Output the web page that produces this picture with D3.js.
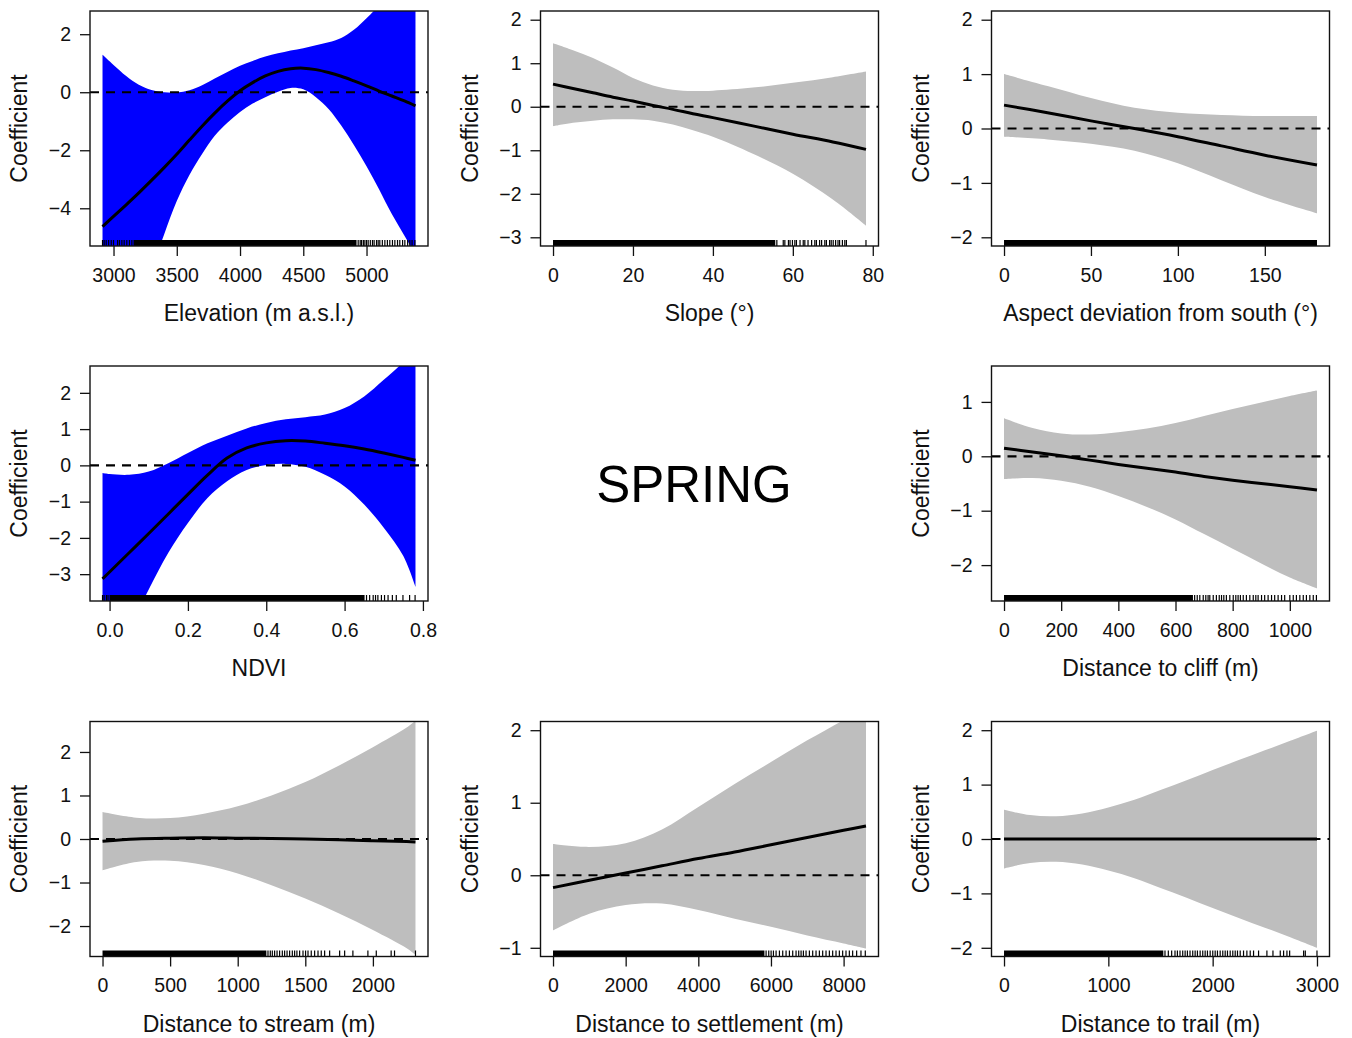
<!DOCTYPE html>
<html><head><meta charset="utf-8">
<script src="https://cdn.jsdelivr.net/npm/d3@7"></script>
<style>
html,body{margin:0;padding:0;background:#fff;}
svg{display:block;font-family:"Liberation Sans",Arial,Helvetica,sans-serif;}
</style></head><body>
<svg id="chart" width="1352" height="1038"></svg>
<script>
// ---------------- DATA ----------------
const yTitle = "Coefficient";
const centerLabel = "SPRING";

// Elevation
const elevX     = [2913, 3000, 3100, 3200, 3300, 3400, 3500, 3600, 3700, 3800, 3900, 4000, 4100, 4200, 4300, 4400, 4500, 4600, 4700, 4800, 4900, 5000, 5100, 5200, 5300, 5387];
const elevFit   = [-4.63, -4.28, -3.88, -3.47, -3.04, -2.60, -2.14, -1.65, -1.17, -0.72, -0.31, 0.05, 0.33, 0.56, 0.72, 0.81, 0.83, 0.78, 0.68, 0.55, 0.39, 0.22, 0.04, -0.13, -0.30, -0.47];
const elevUpper = [1.29, 0.94, 0.56, 0.26, 0.08, 0.00, -0.01, 0.07, 0.24, 0.47, 0.70, 0.91, 1.08, 1.23, 1.34, 1.44, 1.52, 1.62, 1.72, 1.87, 2.15, 2.55, 3.00, 3.50, 4.10, 4.70];
const elevLower = [-10.5, -9.5, -8.4, -7.2, -6.1, -4.9, -3.75, -2.85, -2.13, -1.50, -1.05, -0.68, -0.39, -0.17, 0.02, 0.15, 0.10, -0.17, -0.58, -1.15, -1.82, -2.55, -3.35, -4.20, -4.95, -5.60];
const elevYLim = [-5, 2.5];
const elevXTicks = [3000, 3500, 4000, 4500, 5000];
const elevYTicks = [-4, -2, 0, 2];
const elevRugDense = [3158, 4921];
const elevRugTicks = [2913, 2926, 2942, 2961, 2982, 3000, 3032, 3047, 3066, 3084, 3105, 3126, 3145, 4934, 4950, 4961, 4975, 4987, 5000, 5013, 5030, 5047, 5060, 5079, 5092, 5105, 5125, 5145, 5165, 5184, 5205, 5224, 5245, 5263, 5285, 5303, 5325, 5342, 5360, 5382];

// Slope
const slopeX     = [0, 5, 10, 15, 20, 25, 30, 35, 40, 50, 60, 70, 78.3];
const slopeFit   = [0.52, 0.42, 0.32, 0.22, 0.13, 0.03, -0.06, -0.16, -0.25, -0.44, -0.63, -0.81, -0.98];
const slopeUpper = [1.46, 1.30, 1.12, 0.90, 0.66, 0.49, 0.39, 0.36, 0.37, 0.44, 0.55, 0.68, 0.81];
const slopeLower = [-0.45, -0.37, -0.32, -0.29, -0.29, -0.32, -0.41, -0.54, -0.69, -1.08, -1.54, -2.13, -2.73];
const slopeYLim = [-3, 2];
const slopeXTicks = [0, 20, 40, 60, 80];
const slopeYTicks = [-3, -2, -1, 0, 1, 2];
const slopeRugDense = [0, 55.6];
const slopeRugTicks = [56.0, 57.6, 58.0, 58.9, 59.3, 59.9, 60.5, 60.9, 61.8, 62.6, 63.0, 63.8, 64.7, 65.5, 65.9, 66.7, 67.2, 68.0, 68.4, 69.2, 69.6, 70.1, 70.7, 71.3, 71.7, 72.4, 73.0, 73.4, 78.3];

// Aspect deviation from south
const aspectX     = [0, 25, 50, 75, 100, 125, 150, 180];
const aspectFit   = [0.43, 0.29, 0.14, 0.00, -0.15, -0.32, -0.49, -0.67];
const aspectUpper = [1.00, 0.78, 0.56, 0.38, 0.29, 0.25, 0.23, 0.23];
const aspectLower = [-0.15, -0.20, -0.28, -0.41, -0.64, -0.95, -1.26, -1.56];
const aspectYLim = [-2, 2];
const aspectXTicks = [0, 50, 100, 150];
const aspectYTicks = [-2, -1, 0, 1, 2];
const aspectRugDense = [0, 180];
const aspectRugTicks = [];

// NDVI
const ndviX     = [-0.018, 0.0, 0.05, 0.1, 0.15, 0.2, 0.25, 0.3, 0.35, 0.4, 0.45, 0.5, 0.55, 0.6, 0.65, 0.7, 0.75, 0.781];
const ndviFit   = [-3.13, -2.94, -2.41, -1.88, -1.34, -0.80, -0.27, 0.20, 0.48, 0.62, 0.68, 0.67, 0.61, 0.54, 0.45, 0.34, 0.22, 0.14];
const ndviUpper = [-0.21, -0.24, -0.26, -0.17, 0.06, 0.34, 0.61, 0.82, 1.02, 1.17, 1.27, 1.33, 1.40, 1.58, 1.90, 2.36, 2.85, 3.25];
const ndviLower = [-5.7, -5.4, -4.5, -3.42, -2.41, -1.59, -0.90, -0.44, -0.13, 0.01, 0.04, -0.04, -0.26, -0.58, -1.08, -1.72, -2.50, -3.35];
const ndviYLim = [-3.5, 2.5];
const ndviXTicks = [0.0, 0.2, 0.4, 0.6, 0.8];
const ndviYTicks = [-3, -2, -1, 0, 1, 2];
const ndviRugDense = [0.0, 0.651];
const ndviRugTicks = [-0.018, -0.014, -0.008, -0.004, 0.656, 0.664, 0.673, 0.679, 0.685, 0.694, 0.702, 0.711, 0.722, 0.732, 0.749, 0.766, 0.780];

// Distance to cliff
const cliffX     = [0, 100, 200, 300, 400, 500, 600, 700, 800, 900, 1000, 1095];
const cliffFit   = [0.15, 0.08, 0.01, -0.07, -0.15, -0.22, -0.29, -0.37, -0.44, -0.50, -0.56, -0.62];
const cliffUpper = [0.70, 0.52, 0.42, 0.40, 0.44, 0.51, 0.61, 0.74, 0.87, 0.99, 1.11, 1.21];
const cliffLower = [-0.42, -0.40, -0.45, -0.56, -0.73, -0.93, -1.16, -1.43, -1.70, -1.97, -2.23, -2.43];
const cliffYLim = [-2.5, 1.5];
const cliffXTicks = [0, 200, 400, 600, 800, 1000];
const cliffYTicks = [-2, -1, 0, 1];
const cliffRugDense = [0, 661];
const cliffRugTicks = [667, 676, 685, 697, 706, 714, 720, 732, 743, 753, 761, 769, 778, 790, 802, 811, 819, 827, 837, 848, 860, 872, 881, 889, 901, 912, 924, 936, 947, 959, 971, 982, 1000, 1012, 1023, 1035, 1047, 1058, 1070, 1082, 1093];

// Distance to stream
const streamX     = [0, 250, 500, 750, 1000, 1250, 1500, 1750, 2000, 2250, 2315];
const streamFit   = [-0.05, 0.00, 0.02, 0.03, 0.02, 0.01, 0.00, -0.02, -0.04, -0.06, -0.07];
const streamUpper = [0.62, 0.49, 0.48, 0.58, 0.75, 1.00, 1.31, 1.69, 2.11, 2.56, 2.72];
const streamLower = [-0.72, -0.53, -0.50, -0.60, -0.79, -1.06, -1.37, -1.71, -2.09, -2.51, -2.66];
const streamYLim = [-2.5, 2.5];
const streamXTicks = [0, 500, 1000, 1500, 2000];
const streamYTicks = [-2, -1, 0, 1, 2];
const streamRugDense = [0, 1212];
const streamRugTicks = [1224, 1241, 1256, 1273, 1291, 1310, 1330, 1347, 1365, 1384, 1404, 1421, 1438, 1458, 1483, 1502, 1520, 1544, 1569, 1594, 1618, 1643, 1680, 1754, 1791, 1852, 1963, 2025, 2135, 2160, 2315];

// Distance to settlement
const settleX     = [0, 1000, 2000, 3000, 4000, 5000, 6000, 7000, 8000, 8616];
const settleFit   = [-0.17, -0.07, 0.03, 0.13, 0.23, 0.32, 0.42, 0.52, 0.62, 0.68];
const settleUpper = [0.43, 0.39, 0.44, 0.63, 0.94, 1.26, 1.56, 1.86, 2.14, 2.33];
const settleLower = [-0.76, -0.53, -0.41, -0.39, -0.48, -0.60, -0.71, -0.83, -0.94, -1.01];
const settleYLim = [-1, 2];
const settleXTicks = [0, 2000, 4000, 6000, 8000];
const settleYTicks = [-1, 0, 1, 2];
const settleRugDense = [0, 5820];
const settleRugTicks = [5866, 5939, 6004, 6068, 6141, 6233, 6324, 6416, 6508, 6599, 6691, 6764, 6829, 6893, 6966, 7058, 7149, 7241, 7333, 7424, 7516, 7608, 7699, 7791, 7883, 7974, 8066, 8158, 8249, 8359, 8478, 8597];

// Distance to trail
const trailX     = [0, 250, 500, 750, 1000, 1250, 1500, 1750, 2000, 2250, 2500, 2750, 3000];
const trailFit   = [0, 0, 0, 0, 0, 0, 0, 0, 0, 0, 0, 0, 0];
const trailUpper = [0.54, 0.44, 0.42, 0.47, 0.58, 0.72, 0.90, 1.08, 1.27, 1.45, 1.63, 1.81, 1.99];
const trailLower = [-0.54, -0.44, -0.42, -0.47, -0.58, -0.72, -0.90, -1.08, -1.27, -1.45, -1.63, -1.81, -2.00];
const trailYLim = [-2, 2];
const trailXTicks = [0, 1000, 2000, 3000];
const trailYTicks = [-2, -1, 0, 1, 2];
const trailRugDense = [0, 1527];
const trailRugTicks = [1543, 1575, 1607, 1639, 1662, 1687, 1713, 1736, 1758, 1783, 1809, 1832, 1854, 1880, 1905, 1928, 1950, 1976, 2001, 2024, 2046, 2072, 2097, 2120, 2142, 2168, 2193, 2216, 2238, 2264, 2296, 2328, 2360, 2392, 2440, 2520, 2578, 2648, 2680, 2712, 2738, 2872, 2888, 3000];

// ---------------- PANEL TABLE ----------------
const BLUE = "#0000ff", GREY = "#bebebe";
const panels = [
  {row:0, col:0, title:"Elevation (m a.s.l.)", x:elevX, fit:elevFit, lo:elevLower, hi:elevUpper, ylim:elevYLim, xt:elevXTicks, yt:elevYTicks, rd:elevRugDense, rt:elevRugTicks, fill:BLUE, dec:0},
  {row:0, col:1, title:"Slope (°)", x:slopeX, fit:slopeFit, lo:slopeLower, hi:slopeUpper, ylim:slopeYLim, xt:slopeXTicks, yt:slopeYTicks, rd:slopeRugDense, rt:slopeRugTicks, fill:GREY, dec:0},
  {row:0, col:2, title:"Aspect deviation from south (°)", x:aspectX, fit:aspectFit, lo:aspectLower, hi:aspectUpper, ylim:aspectYLim, xt:aspectXTicks, yt:aspectYTicks, rd:aspectRugDense, rt:aspectRugTicks, fill:GREY, dec:0},
  {row:1, col:0, title:"NDVI", x:ndviX, fit:ndviFit, lo:ndviLower, hi:ndviUpper, ylim:ndviYLim, xt:ndviXTicks, yt:ndviYTicks, rd:ndviRugDense, rt:ndviRugTicks, fill:BLUE, dec:1},
  {row:1, col:2, title:"Distance to cliff (m)", x:cliffX, fit:cliffFit, lo:cliffLower, hi:cliffUpper, ylim:cliffYLim, xt:cliffXTicks, yt:cliffYTicks, rd:cliffRugDense, rt:cliffRugTicks, fill:GREY, dec:0},
  {row:2, col:0, title:"Distance to stream (m)", x:streamX, fit:streamFit, lo:streamLower, hi:streamUpper, ylim:streamYLim, xt:streamXTicks, yt:streamYTicks, rd:streamRugDense, rt:streamRugTicks, fill:GREY, dec:0},
  {row:2, col:1, title:"Distance to settlement (m)", x:settleX, fit:settleFit, lo:settleLower, hi:settleUpper, ylim:settleYLim, xt:settleXTicks, yt:settleYTicks, rd:settleRugDense, rt:settleRugTicks, fill:GREY, dec:0},
  {row:2, col:2, title:"Distance to trail (m)", x:trailX, fit:trailFit, lo:trailLower, hi:trailUpper, ylim:trailYLim, xt:trailXTicks, yt:trailYTicks, rd:trailRugDense, rt:trailRugTicks, fill:GREY, dec:0}
];

// ---------------- LAYOUT ----------------
const colX = [90, 540.5, 991.5];
const rowY = [11, 366, 721.5];
const PW = 338, PH = 235;
const RUG = 6;
const FONT = '"Liberation Sans",Arial,Helvetica,sans-serif';

const svg = d3.select("#chart");
const minus = s => s.replace(/-/g, "\u2212");
const expand = (a, b) => { const d = (b - a) * 0.04; return [a - d, b + d]; };
const curve = d3.curveCatmullRom.alpha(0.5);

panels.forEach((p, i) => {
  const L = colX[p.col], T = rowY[p.row];
  const g = svg.append("g").attr("transform", `translate(${L},${T})`);
  const xs = d3.scaleLinear().domain(expand(d3.min(p.x), d3.max(p.x))).range([0, PW]);
  const ys = d3.scaleLinear().domain(expand(p.ylim[0], p.ylim[1])).range([PH, 0]);
  const pts = p.x.map((xv, k) => ({x: xv, f: p.fit[k], lo: p.lo[k], hi: p.hi[k]}));

  const cid = "clip" + i;
  g.append("clipPath").attr("id", cid).append("rect").attr("x", 0).attr("y", 0).attr("width", PW).attr("height", PH);
  const inner = g.append("g").attr("clip-path", `url(#${cid})`);

  inner.append("path").datum(pts)
    .attr("d", d3.area().x(d => xs(d.x)).y0(d => ys(d.lo)).y1(d => ys(d.hi)).curve(curve))
    .attr("fill", p.fill).attr("stroke", "none");

  inner.append("line").attr("x1", 0).attr("x2", PW).attr("y1", ys(0)).attr("y2", ys(0))
    .attr("stroke", "#000").attr("stroke-width", 2.2).attr("stroke-dasharray", "9,7");

  inner.append("path").datum(pts)
    .attr("d", d3.line().x(d => xs(d.x)).y(d => ys(d.f)).curve(curve))
    .attr("fill", "none").attr("stroke", "#000").attr("stroke-width", 3).attr("stroke-linejoin", "round");

  // rug
  inner.append("rect").attr("x", xs(p.rd[0])).attr("y", PH - RUG)
    .attr("width", xs(p.rd[1]) - xs(p.rd[0])).attr("height", RUG).attr("fill", "#000");
  inner.selectAll("line.rug").data(p.rt).enter().append("line").attr("class", "rug")
    .attr("x1", d => xs(d)).attr("x2", d => xs(d)).attr("y1", PH).attr("y2", PH - RUG)
    .attr("stroke", "#000").attr("stroke-width", 1.2);

  // box
  g.append("rect").attr("x", 0).attr("y", 0).attr("width", PW).attr("height", PH)
    .attr("fill", "none").attr("stroke", "#111").attr("stroke-width", 1.4);

  // axes
  const xa = d3.axisBottom(xs).tickValues(p.xt).tickSize(10).tickPadding(12)
    .tickFormat(d => minus(d.toFixed(p.dec)));
  const gx = g.append("g").attr("transform", `translate(0,${PH})`).call(xa);
  const ya = d3.axisLeft(ys).tickValues(p.yt).tickSize(10).tickPadding(9)
    .tickFormat(d => minus(String(d)));
  const gy = g.append("g").call(ya);
  [gx, gy].forEach(a => {
    a.select(".domain").remove();
    a.selectAll(".tick line").attr("stroke", "#111").attr("stroke-width", 1.3);
    a.selectAll(".tick text").attr("fill", "#111").style("font-size", "19.5px").style("font-family", FONT);
  });

  g.append("text").attr("x", PW / 2).attr("y", PH + 75).attr("text-anchor", "middle")
    .style("font-size", "23px").attr("fill", "#111").text(p.title);
  g.append("text").attr("transform", `translate(-63,${PH / 2}) rotate(-90)`).attr("text-anchor", "middle")
    .style("font-size", "23px").attr("fill", "#111").text(yTitle);
});

svg.append("text").attr("x", 694).attr("y", 502).attr("text-anchor", "middle")
  .style("font-size", "51px").attr("fill", "#000").text(centerLabel);
</script>
</body></html>
